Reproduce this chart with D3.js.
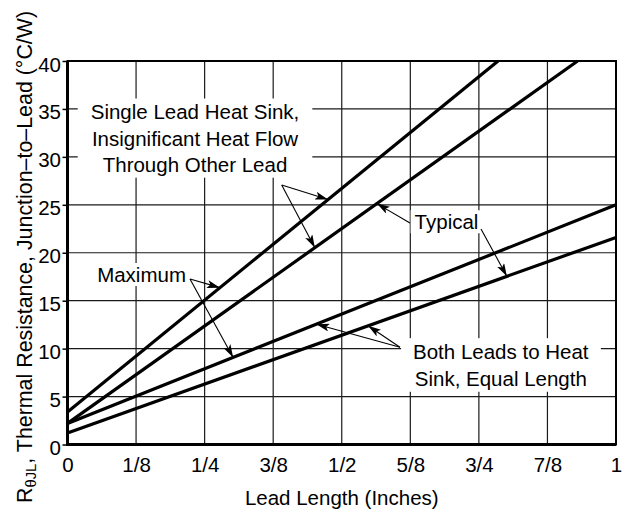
<!DOCTYPE html>
<html>
<head>
<meta charset="utf-8">
<script src="https://cdn.jsdelivr.net/npm/d3@7"></script>
<style>
  html, body { margin: 0; padding: 0; background: #fff; }
  svg { display: block; font-family: "Liberation Sans", Arial, sans-serif; }
</style>
</head>
<body>
<svg id="chart" width="627" height="512"></svg>
<script>
// Lead length axis (inches) and resistance axis (°C/W)
const xTickValues = [0, 0.125, 0.25, 0.375, 0.5, 0.625, 0.75, 0.875, 1];
const xTickLabels = ["0", "1/8", "1/4", "3/8", "1/2", "5/8", "3/4", "7/8", "1"];
const yTickValues = [0, 5, 10, 15, 20, 25, 30, 35, 40];

// Each curve is a straight line: [lead length, thermal resistance] end points
const singleLeadMax     = [[0, 3.4], [0.785, 40]];
const singleLeadTypical = [[0, 2.2], [0.93, 40]];
const bothLeadsMax      = [[0, 2.2], [1, 25]];
const bothLeadsTypical  = [[0, 1.2], [1, 21.6]];
const curves = [singleLeadMax, singleLeadTypical, bothLeadsMax, bothLeadsTypical];

const svg = d3.select("#chart");
const W = 627, H = 512;
const plotLeft = 67.5, plotRight = 616, plotTop = 61, plotBottom = 444.5;

const x = d3.scaleLinear().domain([0, 1]).range([plotLeft, plotRight]);
const y = d3.scaleLinear().domain([0, 40]).range([plotBottom, plotTop]);

svg.append("rect").attr("width", W).attr("height", H).attr("fill", "#fff");

// grid
const grid = svg.append("g").attr("stroke", "#1a1a1a").attr("stroke-width", 1.2);
grid.selectAll("line.v").data(xTickValues.slice(1, -1)).join("line")
  .attr("class", "v")
  .attr("x1", d => x(d)).attr("x2", d => x(d))
  .attr("y1", plotTop).attr("y2", plotBottom);
grid.selectAll("line.h").data(yTickValues.slice(1, -1)).join("line")
  .attr("class", "h")
  .attr("x1", plotLeft).attr("x2", plotRight)
  .attr("y1", d => y(d)).attr("y2", d => y(d));

// axes
const yAxis = d3.axisLeft(y).tickValues(yTickValues).tickSize(5).tickSizeOuter(0).tickPadding(3);
const gy = svg.append("g").attr("transform", `translate(${plotLeft},0)`).call(yAxis);
gy.select(".domain").remove();
gy.selectAll(".tick line").attr("stroke", "#000").attr("stroke-width", 1.5);
gy.selectAll(".tick text").attr("font-size", 20.5).attr("fill", "#000")
  .attr("font-family", "Liberation Sans, Arial, sans-serif")
  .attr("dy", null).attr("y", 10).attr("x", -6.5);

const xAxis = d3.axisBottom(x).tickValues(xTickValues)
  .tickFormat((d, i) => xTickLabels[i]).tickSize(0).tickPadding(0);
const gx = svg.append("g").attr("transform", `translate(0,${plotBottom})`).call(xAxis);
gx.select(".domain").remove();
gx.selectAll(".tick text").attr("font-size", 20.5).attr("fill", "#000")
  .attr("font-family", "Liberation Sans, Arial, sans-serif")
  .attr("dy", null).attr("y", 27.5);

// annotation label boxes (white backing that hides the grid)
const labels = [
  { lines: ["Single Lead Heat Sink,", "Insignificant Heat Flow", "Through Other Lead"],
    cx: 0.2325, base: 33.95, padX: 13, padY: 1.5 },
  { lines: ["Typical"], cx: 0.691, base: 22.45, padX: 4, padY: 0 },
  { lines: ["Maximum"], cx: 0.135, base: 16.95, padX: 4, padY: 0 },
  { lines: ["Both Leads to Heat", "Sink, Equal Length"], cx: 0.79, base: 8.9, padX: 12, padY: 2 }
];
const lineGap = 26.6;
const labelLayer = svg.append("g");

labels.forEach(lb => {
  const g = labelLayer.append("g");
  const bg = g.append("rect").attr("fill", "#fff");
  const t = g.append("text")
    .attr("text-anchor", "middle").attr("font-size", 20.5).attr("fill", "#000");
  lb.lines.forEach((s, i) => {
    t.append("tspan").attr("x", x(lb.cx)).attr("y", y(lb.base) + i * lineGap).text(s);
  });
  const bb = t.node().getBBox();
  bg.attr("x", bb.x - lb.padX).attr("y", bb.y - lb.padY)
    .attr("width", bb.width + 2 * lb.padX).attr("height", bb.height + 2 * lb.padY);
});

// frame
svg.append("rect")
  .attr("x", plotLeft).attr("y", plotTop)
  .attr("width", plotRight - plotLeft).attr("height", plotBottom - plotTop)
  .attr("fill", "none").attr("stroke", "#000").attr("stroke-width", 2);
svg.append("path")
  .attr("d", `M${plotLeft},${plotTop}V${plotBottom}H${plotRight}`)
  .attr("fill", "none").attr("stroke", "#000").attr("stroke-width", 3);

// curves
const lineGen = d3.line().x(d => x(d[0])).y(d => y(d[1]));
svg.append("g").selectAll("path").data(curves).join("path")
  .attr("d", lineGen)
  .attr("fill", "none").attr("stroke", "#000").attr("stroke-width", 3.2)
  .attr("stroke-linecap", "butt");

// leader arrows: from a point near the label to a spot on a curve
const valueAt = (curve, lx) => {
  const [a, b] = curve;
  return a[1] + (b[1] - a[1]) * (lx - a[0]) / (b[0] - a[0]);
};
const leaders = [
  { from: [0.3905, 27.07], curve: 0, at: 0.475 },
  { from: [0.3905, 27.07], curve: 1, at: 0.451 },
  { from: [0.6244, 23.10], curve: 1, at: 0.564 },
  { from: [0.7539, 22.48], curve: 3, at: 0.801 },
  { from: [0.2233, 17.26], curve: 0, at: 0.278 },
  { from: [0.2233, 17.26], curve: 2, at: 0.302 },
  { from: [0.6062, 10.14], curve: 3, at: 0.548 },
  { from: [0.6062, 10.14], curve: 2, at: 0.454 }
];

const defs = svg.append("defs");
defs.append("marker")
  .attr("id", "head").attr("markerUnits", "userSpaceOnUse")
  .attr("viewBox", "0 0 13 8").attr("refX", 13).attr("refY", 4)
  .attr("markerWidth", 13).attr("markerHeight", 8).attr("orient", "auto")
  .append("path").attr("d", "M0,0L13,4L0,8L3,4Z").attr("fill", "#000");

svg.append("g").selectAll("line").data(leaders).join("line")
  .attr("x1", d => x(d.from[0])).attr("y1", d => y(d.from[1]))
  .attr("x2", d => x(d.at)).attr("y2", d => y(valueAt(curves[d.curve], d.at)))
  .attr("stroke", "#000").attr("stroke-width", 1.1)
  .attr("marker-end", "url(#head)");

// axis titles
svg.append("text")
  .attr("x", (plotLeft + plotRight) / 2).attr("y", 505)
  .attr("text-anchor", "middle").attr("font-size", 20.5).attr("fill", "#000")
  .text("Lead Length (Inches)");

const yTitle = svg.append("text")
  .attr("transform", "translate(32,503) rotate(-90)")
  .attr("text-anchor", "start").attr("font-size", 21.4).attr("fill", "#000");
yTitle.append("tspan").text("R");
yTitle.append("tspan").attr("font-size", 14.8).attr("dy", 4).text("θJL");
yTitle.append("tspan").attr("dy", -4).text(", Thermal Resistance, Junction\u2013to\u2013Lead (°C/W)");
</script>
</body>
</html>
